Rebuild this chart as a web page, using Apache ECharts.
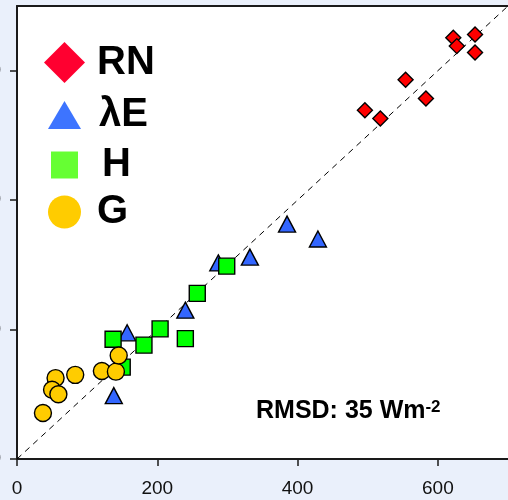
<!DOCTYPE html>
<html>
<head>
<meta charset="utf-8">
<script src="https://cdn.jsdelivr.net/npm/echarts@6/dist/echarts.min.js"></script>
<style>
  html, body { margin: 0; padding: 0; background: #eaf0fb; }
  #chart { width: 508px; height: 500px; }
</style>
</head>
<body>
<div id="chart"></div>
<script>
  // observed (x) vs modelled (y) fluxes
  const rnX = [496, 518, 554, 583, 622, 627, 653, 653];
  const rnY = [539, 526, 586, 557, 651, 638, 656, 628];
  const leX = [138, 157, 240, 287, 332, 385, 429];
  const leY = [98, 195, 230, 303, 312, 363, 340];
  const hX = [137, 150, 181, 204, 240, 257, 299];
  const hY = [185, 142, 176, 201, 186, 256, 298];
  const gX = [37, 55, 50, 59, 83, 121, 141, 145];
  const gY = [71, 125, 107, 100, 130, 136, 135, 160];
  const tickValues = [0, 200, 400, 600];
  const oneToOne = [[0, 0], [700, 700]];

  const pair = (xs, ys) => xs.map((x, i) => [x, ys[i]]);
  const font = 'Liberation Sans, Arial, sans-serif';

  // one legend per series so every icon can keep its own size
  function legendFor (name, color, icon, w, h, left, top, pad) {
    return {
      data: [{ name: name, icon: icon, itemStyle: { color: color, borderWidth: 0 } }],
      left: left,
      top: top,
      padding: 0,
      itemWidth: w,
      itemHeight: h,
      selectedMode: false,
      itemStyle: { borderWidth: 0 },
      textStyle: {
        fontFamily: font,
        fontSize: 40,
        fontWeight: 'bold',
        color: '#000',
        padding: [0, 0, 0, pad]
      }
    };
  }

  const axisCommon = {
    type: 'value',
    min: 0,
    max: 700,
    interval: 200,
    splitLine: { show: false },
    axisLine: { lineStyle: { color: '#1a1a1a', width: 2 } },
    axisTick: { length: 7, customValues: tickValues, lineStyle: { color: '#1a1a1a', width: 1.5 } },
    axisLabel: { customValues: tickValues, fontFamily: font, fontSize: 19, color: '#111' }
  };

  const myChart = echarts.init(document.getElementById('chart'));
  myChart.setOption({
    backgroundColor: '#eaf0fb',
    animation: false,
    grid: {
      left: 17, top: 6, right: 0, bottom: 41,
      containLabel: false, outerBoundsMode: 'none',
      show: true, backgroundColor: '#fff', borderWidth: 0
    },
    title: {
      text: 'RMSD: 35 Wm{sup|-2}',
      left: 256,
      top: 399,
      padding: 0,
      textStyle: {
        fontFamily: font,
        fontSize: 25,
        fontWeight: 'bold',
        color: '#000',
        rich: {
          sup: { fontFamily: font, fontSize: 17, fontWeight: 'bold', color: '#000', verticalAlign: 'top' }
        }
      }
    },
    legend: [
      legendFor('RN', '#ff0030', 'diamond', 41, 41, 44, 42, 7),
      legendFor('λE', '#3d74ff', 'triangle', 33, 28, 48, 95, 13),
      legendFor('H', '#66ff33', 'rect', 27, 27, 51, 145, 19),
      legendFor('G', '#ffcc00', 'circle', 33, 33, 48, 192, 11)
    ],
    xAxis: [
      Object.assign({}, axisCommon, {
        position: 'bottom',
        axisLabel: Object.assign({}, axisCommon.axisLabel, { margin: 20 })
      }),
      {
        type: 'value', min: 0, max: 700, position: 'top',
        axisLine: { show: true, onZero: false, lineStyle: { color: '#1a1a1a', width: 2 } },
        axisTick: { show: false }, axisLabel: { show: false }, splitLine: { show: false }
      }
    ],
    yAxis: Object.assign({}, axisCommon, {
      axisLabel: Object.assign({}, axisCommon.axisLabel, { margin: 16 })
    }),
    series: [
      {
        type: 'line',
        data: oneToOne,
        symbol: 'none',
        silent: true,
        lineStyle: { color: '#000', width: 1, type: [6, 5] },
        z: 1
      },
      {
        name: 'RN', type: 'scatter', symbol: 'diamond', symbolSize: 15,
        data: pair(rnX, rnY),
        itemStyle: { color: '#ff0000', borderColor: '#000', borderWidth: 1.4, opacity: 1 },
        z: 2
      },
      {
        name: 'λE', type: 'scatter', symbol: 'triangle', symbolSize: [17, 16],
        data: pair(leX, leY),
        itemStyle: { color: '#3366ff', borderColor: '#000', borderWidth: 1.4, opacity: 1 },
        z: 3
      },
      {
        name: 'H', type: 'scatter', symbol: 'rect', symbolSize: 16,
        data: pair(hX, hY),
        itemStyle: { color: '#00ff00', borderColor: '#000', borderWidth: 1.4, opacity: 1 },
        z: 4
      },
      {
        name: 'G', type: 'scatter', symbol: 'circle', symbolSize: 17,
        data: pair(gX, gY),
        itemStyle: { color: '#ffcc00', borderColor: '#000', borderWidth: 1.4, opacity: 1 },
        z: 5
      }
    ]
  });
</script>
</body>
</html>
